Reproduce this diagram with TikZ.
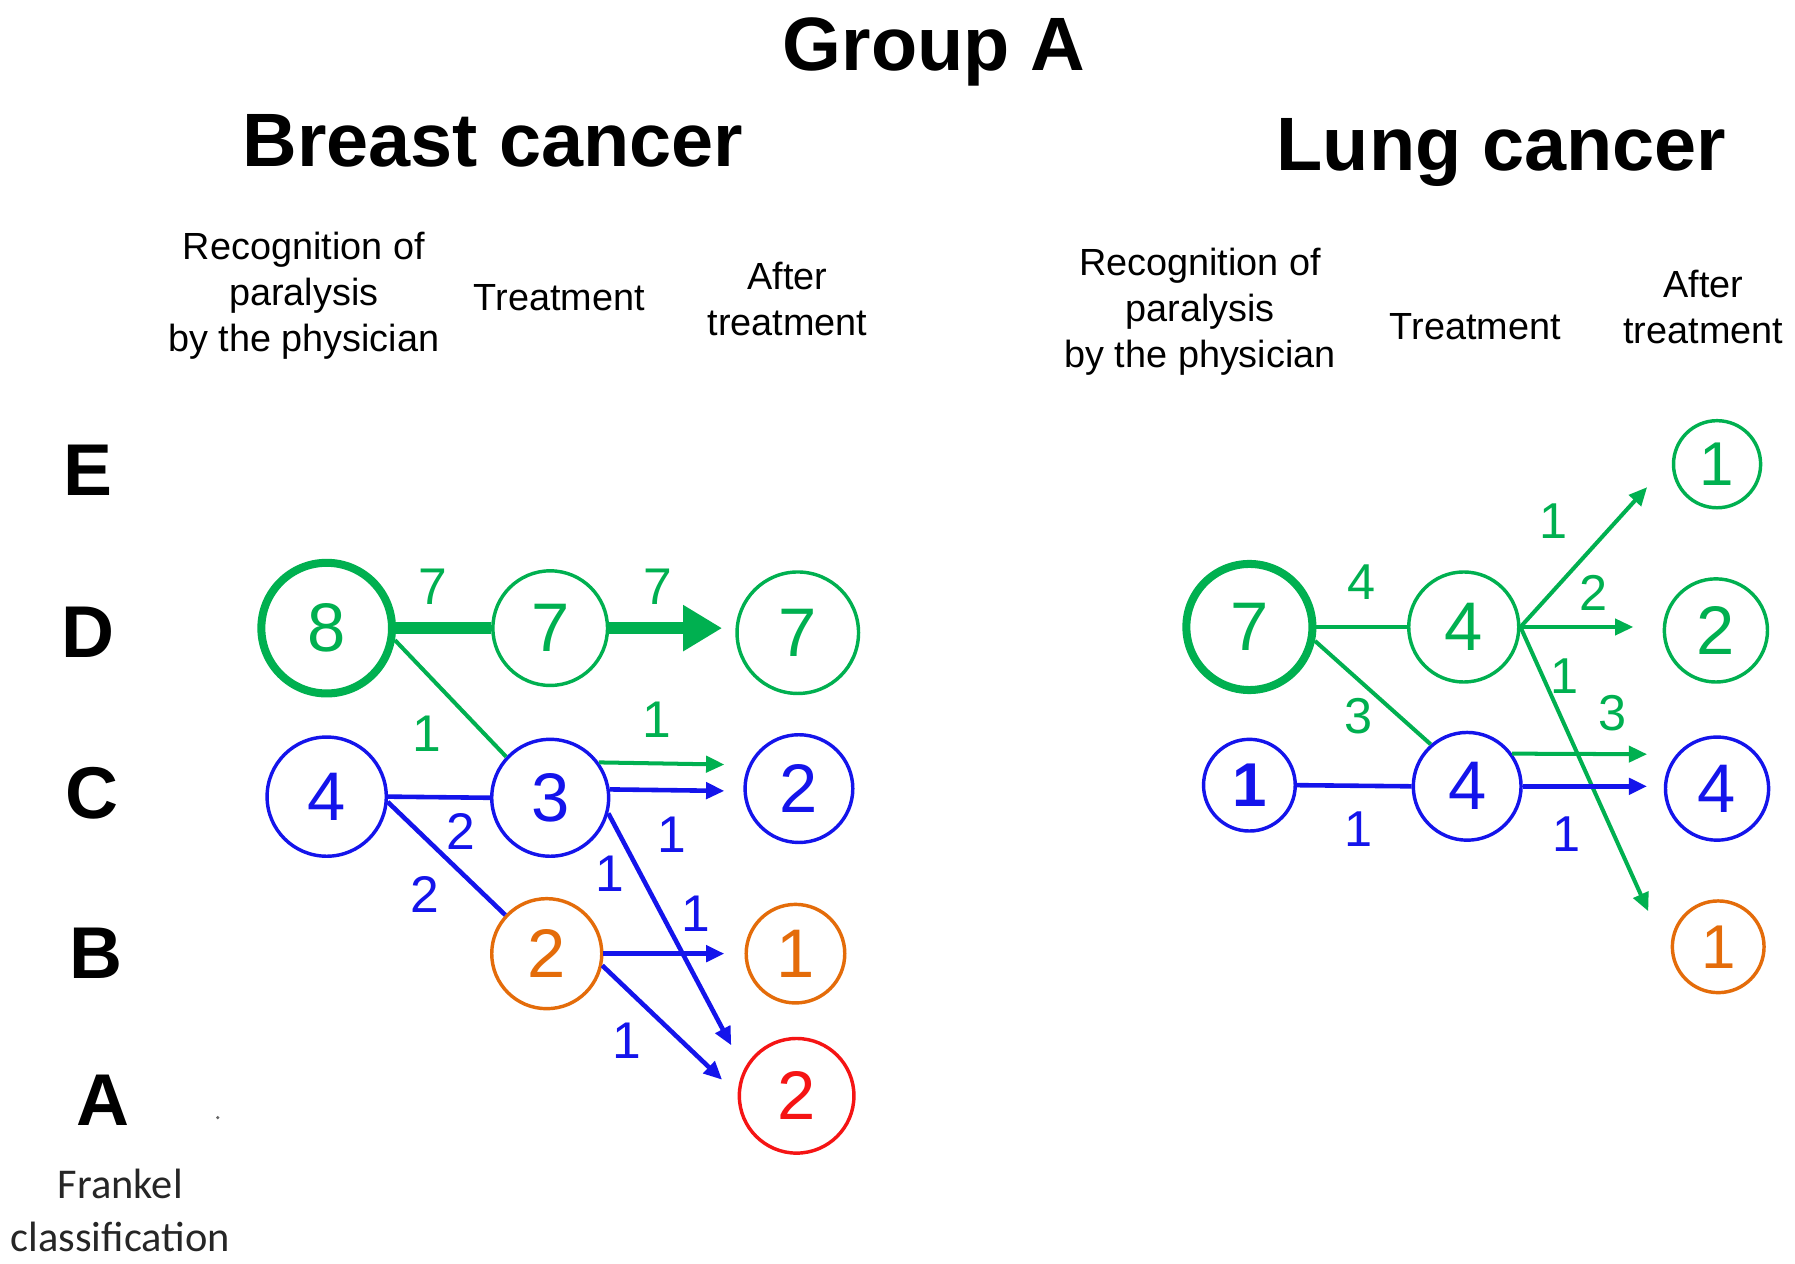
\documentclass[tikz,border=0pt]{standalone}
\usepackage{fontspec}
\setmainfont{Liberation Sans}
\newfontfamily\calfont{Carlito}
\usetikzlibrary{arrows.meta}
\definecolor{cgreen}{RGB}{0,176,80}
\definecolor{cblue}{RGB}{20,20,235}
\definecolor{corange}{RGB}{228,108,10}
\definecolor{cred}{RGB}{245,20,20}
\begin{document}
\begin{tikzpicture}[x=1pt,y=-1pt,
  num/.style={circle, draw, line width=3pt, inner sep=0pt, font=\fontsize{60}{60}\selectfont},
  numsm/.style={num, font=\fontsize{54}{54}\selectfont},
  lab/.style={font=\fontsize{45}{45}\selectfont},
  labsm/.style={font=\fontsize{44}{44}\selectfont},
  rowl/.style={font=\bfseries\fontsize{64}{64}\selectfont},
  hdr/.style={align=center, font=\fontsize{33}{40}\selectfont},
  ttl/.style={font=\bfseries\fontsize{66}{66}\selectfont},
  edgeG/.style={cgreen, line width=3.5pt},
  edgeB/.style={cblue, line width=4pt},
  arrG/.style={edgeG, -{Triangle[length=16pt,width=14pt]}},
  arrB/.style={edgeB, -{Triangle[length=16pt,width=14pt]}}
]
\useasboundingbox (0,0) rectangle (1566,1102);
\fill[white] (0,0) rectangle (1566,1102);

% titles
\node[font=\bfseries\fontsize{66}{66}\selectfont] (title) at (815,45) {Group A};
\node[ttl] (tbreast) at (430,123) {Breast cancer};
\node[ttl] (tlung) at (1310,133) {Lung cancer};

% headers left
\node[hdr] (hL1) at (265,258) {Recognition of\\paralysis\\by the physician};
\node[hdr] (hL2) at (488,260) {Treatment};
\node[hdr] (hL3) at (687,261) {After\\treatment};
% headers right
\node[hdr] (hR1) at (1047,272) {Recognition of\\paralysis\\by the physician};
\node[hdr] (hR2) at (1287,285) {Treatment};
\node[hdr] (hR3) at (1486,268) {After\\treatment};

% row letters
\node[rowl] (rE) at (77,410) {E};
\node[rowl] (rD) at (77,552) {D};
\node[rowl] (rC) at (80,692) {C};
\node[rowl] (rB) at (84,832) {B};
\node[rowl] (rA) at (90,960) {A};
\fill[black!60] (190,975) circle (1.5pt);
\node[align=center, text=black!85, font=\calfont\fontsize{37}{46}\selectfont] (frankel) at (105,1056) {Frankel\\classification};

% ---------- Breast cancer ----------
\node[num, cgreen, line width=7pt, minimum size=114pt] (L8) at (285,548) {8};
\node[num, cgreen, minimum size=100pt] (L7t) at (480,548) {7};
\node[num, cgreen, minimum size=106pt] (L7a) at (696,552) {7};
\node[num, cblue, minimum size=104pt] (L4) at (285,695) {4};
\node[num, cblue, minimum size=102pt] (L3) at (480,696) {3};
\node[num, corange, minimum size=96pt] (L2o) at (477,832) {2};
\node[num, cblue, minimum size=94pt] (L2a) at (697,688) {2};
\node[num, corange, minimum size=86pt] (L1a) at (694,832) {1};
\node[num, cred, minimum size=100pt] (LAa) at (695,956) {2};

\coordinate (hL7) at (630,548);
\coordinate (tL2a1) at (632,667);
\coordinate (tL2a2) at (632,690);
\coordinate (tLA1) at (638,912);
\coordinate (tL1a) at (632,832);
\coordinate (tLA2) at (630,942);

\draw[cgreen, line width=10pt] (L8.east) -- (L7t.west);
\draw[cgreen, line width=10pt, -{Triangle[length=34pt,width=38pt]}] (L7t.east) -- (hL7);
\draw[edgeG] (L8.-10) -- (L3.137);
\draw[arrG] (L3.36) -- (tL2a1);
\draw[arrB] (L3.8) -- (tL2a2);
\draw[edgeB] (L4.east) -- (L3.west);
\draw[edgeB] (L4.-5) -- (L2o.137);
\draw[arrB] (L3.-15) -- (tLA1);
\draw[arrB] (L2o.east) -- (tL1a);
\draw[arrB] (L2o.-12) -- (tLA2);

\node[lab, cgreen] (lb1) at (378,512) {7};
\node[lab, cgreen] (lb2) at (574,512) {7};
\node[lab, cgreen] (lb3) at (372,640) {1};
\node[lab, cgreen] (lb4) at (573,628) {1};
\node[lab, cblue] (lb5) at (402,725) {2};
\node[lab, cblue] (lb6) at (371,780) {2};
\node[lab, cblue] (lb7) at (586,728) {1};
\node[lab, cblue] (lb8) at (532,762) {1};
\node[lab, cblue] (lb9) at (607,797) {1};
\node[lab, cblue] (lb10) at (547,908) {1};

% ---------- Lung cancer ----------
\node[num, cgreen, line width=7pt, minimum size=110pt] (R7) at (1090,547) {7};
\node[num, cgreen, minimum size=96pt] (Rg4) at (1277,547) {4};
\node[numsm, cblue, minimum size=80pt] (Rb1) at (1090,685) {\bfseries 1};
\node[num, cblue, minimum size=94pt] (Rb4) at (1280,686) {4};
\node[numsm, cgreen, minimum size=76pt] (RE1) at (1498,405) {1};
\node[num, cgreen, minimum size=90pt] (RD2) at (1497,550) {2};
\node[num, cblue, minimum size=90pt] (RC4) at (1498,688) {4};
\node[numsm, corange, minimum size=80pt] (RB1) at (1499,826) {1};

\coordinate (tRE) at (1437,425);
\coordinate (tRD) at (1425,547);
\coordinate (tRB) at (1438,795);
\coordinate (tRC1) at (1437,658);
\coordinate (tRC2) at (1437,686);

\draw[edgeG] (R7.east) -- (Rg4.west);
\draw[edgeG] (R7.-12) -- (Rb4.131);
\draw[edgeB] (Rb1.east) -- (Rb4.west);
\draw[arrG] (Rg4.east) -- (tRE);
\draw[arrG] (Rg4.east) -- (tRD);
\draw[arrG] (Rg4.east) -- (tRB);
\draw[arrG] (Rb4.36) -- (tRC1);
\draw[arrB] (Rb4.east) -- (tRC2);

\node[labsm, cgreen] (rl1) at (1188,508) {4};
\node[labsm, cgreen] (rl2) at (1185,625) {3};
\node[labsm, cblue] (rl3) at (1185,723) {1};
\node[labsm, cgreen] (rl4) at (1355,455) {1};
\node[labsm, cgreen] (rl5) at (1390,517) {2};
\node[labsm, cgreen] (rl6) at (1365,590) {1};
\node[labsm, cgreen] (rl7) at (1407,622) {3};
\node[labsm, cblue] (rl8) at (1367,728) {1};
\end{tikzpicture}
\end{document}
